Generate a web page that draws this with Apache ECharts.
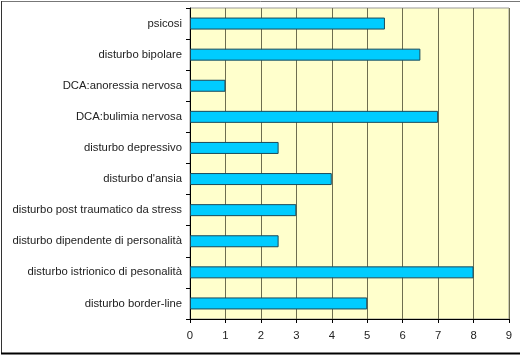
<!DOCTYPE html>
<html><head><meta charset="utf-8">
<script src="https://cdn.jsdelivr.net/npm/echarts@6/dist/echarts.min.js"></script>
<style>html,body{margin:0;padding:0;background:#fff}#c{width:520px;height:357px}</style>
</head><body><div id="c"></div>
<script>
const categories = ["psicosi","disturbo bipolare","DCA:anoressia nervosa","DCA:bulimia nervosa","disturbo depressivo","disturbo d'ansia","disturbo post traumatico da stress","disturbo dipendente di personalità","disturbo istrionico di pesonalità","disturbo border-line"];
const values = [5.5, 6.5, 1, 7, 2.5, 4, 3, 2.5, 8, 5];
const xTicks = [0,1,2,3,4,5,6,7,8,9];

const chart = echarts.init(document.getElementById('c'), null, {renderer:'canvas'});
chart.setOption({
  animation:false,
  backgroundColor:'#fff',
  graphic:[
    {type:'line', shape:{x1:1,y1:1.5,x2:520,y2:1.5}, style:{stroke:'#777',lineWidth:1}},
    {type:'line', shape:{x1:1.5,y1:1,x2:1.5,y2:354}, style:{stroke:'#333',lineWidth:1}},
    {type:'line', shape:{x1:1,y1:353.5,x2:520,y2:353.5}, style:{stroke:'#000',lineWidth:2}}
  ],
  grid:{left:190,right:11,top:8,bottom:38,show:true,backgroundColor:'#FFFFCC',borderColor:'#999',borderWidth:1},
  xAxis:{type:'value',min:0,max:9,interval:1,
    axisLine:{show:true,lineStyle:{color:'#000',width:1}},
    axisTick:{show:true,length:4,lineStyle:{color:'#000'}},
    axisLabel:{color:'#222',fontFamily:'Liberation Sans, Arial',fontSize:11.3,margin:11,
      formatter:(v)=>String(xTicks[v]!==undefined?xTicks[v]:v)},
    splitLine:{show:true,lineStyle:{color:'#6e6e50',width:1}}},
  yAxis:{type:'category',data:categories,inverse:true,
    axisLine:{show:true,lineStyle:{color:'#000',width:1}},
    axisTick:{show:true,length:4,lineStyle:{color:'#000'}},
    axisLabel:{color:'#222',fontFamily:'Liberation Sans, Arial',fontSize:11.3,margin:8},
    splitLine:{show:false}},
  series:[{type:'bar',data:values,barWidth:12,
    itemStyle:{color:'#00CCFF',borderColor:'#1b4a5a',borderWidth:1}}]
});
</script></body></html>
